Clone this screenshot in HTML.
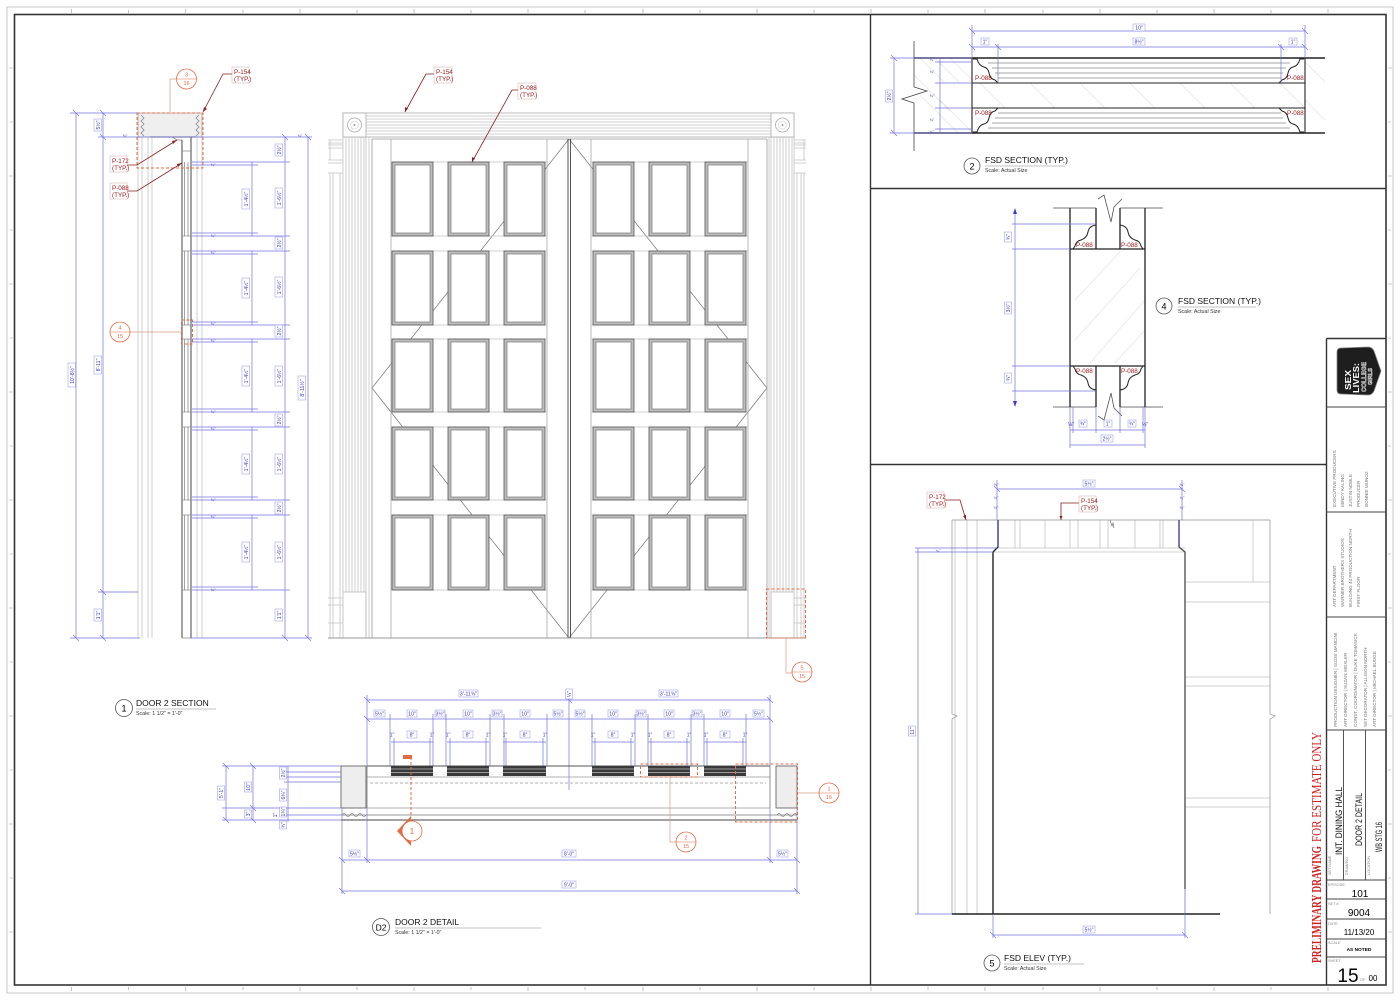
<!DOCTYPE html>
<html><head><meta charset="utf-8">
<style>
html,body{margin:0;padding:0;background:#fff;}
svg{display:block;}
text{font-family:"Liberation Sans",sans-serif;}
.g{stroke:#c4c4c4;fill:none;stroke-width:.8}
.h{stroke:#e2e2e2;fill:none;stroke-width:.7}
.m{stroke:#8a8a8a;fill:none;stroke-width:.8}
.k{stroke:#222;fill:none;stroke-width:1.2}
.b{stroke:#7474e2;fill:none;stroke-width:.7}
.dt{font-size:5.2px;fill:#3c3cc0;text-anchor:middle}
.db{fill:#fff;stroke:#9090e8;stroke-width:.5}
.rl{font-size:6.3px;fill:#a01c1c}
.rb{fill:#fff;stroke:#d0a8a8;stroke-width:.5}
.ld{stroke:#8a1f1f;fill:none;stroke-width:.8}
.cr{stroke:#e46c44;fill:#fff;stroke-width:.8}
.ct{font-size:5.5px;fill:#e46c44;text-anchor:middle}
.rd{stroke:#e46c44;fill:none;stroke-width:1;stroke-dasharray:3 2}
.tt{font-size:8.5px;fill:#111}
.ts{font-size:5.3px;fill:#333}
.tb{font-size:4.6px;fill:#777}
.tl{font-size:3.8px;fill:#888}
</style></head><body>
<svg width="1400" height="1000" viewBox="0 0 1400 1000" xmlns="http://www.w3.org/2000/svg">
<rect width="1400" height="1000" fill="#fff"/>
<!-- frame -->
<rect x="7" y="7" width="1386" height="986" fill="none" stroke="#c8c8c8" stroke-width="1"/>
<rect x="14.5" y="14.5" width="1371.5" height="970.5" fill="none" stroke="#333" stroke-width="1.6"/>
<g stroke="#999" stroke-width=".6">
<path d="M71.6,9V13 M128.7,10V13 M185.8,9V13 M243,10V13 M300,9V13 M357,10V13 M414,9V13 M471,10V13 M528,9V13 M585,10V13 M643,9V13 M700,10V13 M757,9V13 M814,10V13 M871,9V13 M928,10V13 M985,9V13 M1043,10V13 M1100,9V13 M1157,10V13 M1214,9V13 M1271,10V13 M1328,9V13"/>
<path d="M71.6,987V991 M128.7,987V990 M185.8,987V991 M243,987V990 M300,987V991 M357,987V990 M414,987V991 M471,987V990 M528,987V991 M585,987V990 M643,987V991 M700,987V990 M757,987V991 M814,987V990 M871,987V991 M928,987V990 M985,987V991 M1043,987V990 M1100,987V991 M1157,987V990 M1214,987V991 M1271,987V990 M1328,987V991"/>
<path d="M9,68H13 M10,122H13 M9,176H13 M10,230H13 M9,284H13 M10,338H13 M9,392H13 M10,446H13 M9,500H13 M10,554H13 M9,608H13 M10,662H13 M9,716H13 M10,770H13 M9,824H13 M10,878H13 M9,932H13"/>
<path d="M1388,68H1392 M1388,122H1391 M1388,176H1392 M1388,230H1391 M1388,284H1392 M1388,338H1391 M1388,392H1392 M1388,446H1391 M1388,500H1392 M1388,554H1391 M1388,608H1392 M1388,662H1391 M1388,716H1392 M1388,770H1391 M1388,824H1392 M1388,878H1391 M1388,932H1392"/>
</g>
<!-- dividers -->
<path d="M870.5,14.5V985 M870.5,188.5H1386 M870.5,464.5H1326.5 M1326.5,338.5V985 M1326.5,338.5H1386" stroke="#333" stroke-width="1.4" fill="none"/>

<!-- ============ SECTION 1 (DOOR 2 SECTION) ============ -->
<g>
<rect x="138" y="113" width="64" height="24" fill="#efefef" stroke="#999" stroke-width=".7"/>
<path d="M141,115 l3,3 -3,3 3,3 -3,3 3,3 -3,3 3,3 M199,115 l-3,3 3,3 -3,3 3,3 -3,3 3,3 -3,3" class="m"/>
<path d="M150,137H196" stroke="#222" stroke-width="1.1"/>
<path d="M172,137 L177,140 L182,140" class="m"/>
<path d="M138,137V638 M142,137V638 M148,137V638 M152,137V638 M197,137V638 M202,137V638" class="g"/>
<path d="M182,140V638 M191,137V638" stroke="#333" stroke-width=".9" fill="none"/>
<path d="M184.5,162V236 M188,162V236 M184.5,251V325 M188,251V325 M184.5,339V412 M188,339V412 M184.5,427V500 M188,427V500 M184.5,515V590 M188,515V590" class="m"/>
<path d="M182,151H191 M182,236H191 M182,251H191 M182,325H191 M182,339H191 M182,412H191 M182,427H191 M182,500H191 M182,515H191 M182,590H191 M182,638H191" class="m"/>
<rect x="137" y="113" width="66" height="55" class="rd"/>
<rect x="181.5" y="320" width="11" height="24" class="rd"/>
<!-- blue dims -->
<path class="b" d="M76,113V638 M70,113H138 M70,638H140 M103,113V638 M98,137H138 M98,592H138 M118,137H312 M190,638H312 M285,137V638 M308,137V638"/>
<path class="b" d="M252,162V236 M252,251V325 M252,339V412 M252,427V500 M252,515V590"/>
<path class="b" d="M192,162H290 M192,165H258 M192,236H290 M192,233H258 M192,251H290 M192,254H258 M192,325H290 M192,322H258 M192,339H290 M192,342H258 M192,412H290 M192,409H258 M192,427H290 M192,430H258 M192,500H290 M192,497H258 M192,515H290 M192,518H258 M192,590H290 M192,587H258"/>
<path class="b" d="M73,110l6,6 M73,635l6,6 M100,134l6,6 M100,589l6,6 M100,635l6,6 M100,110l6,6 M282,134l6,6 M305,134l6,6 M282,635l6,6 M305,635l6,6"/>
<g transform="translate(72,375) rotate(-90)"><rect class="db" x="-12" y="-4" width="24" height="7.5"/><text class="dt" y="1.8">10'-8½"</text></g>
<g transform="translate(98,125) rotate(-90)"><rect class="db" x="-6" y="-4" width="12" height="7.5"/><text class="dt" y="1.8">5½"</text></g>
<g transform="translate(98,365) rotate(-90)"><rect class="db" x="-9" y="-4" width="18" height="7.5"/><text class="dt" y="1.8">8'-11"</text></g>
<g transform="translate(98,615) rotate(-90)"><rect class="db" x="-6" y="-4" width="12" height="7.5"/><text class="dt" y="1.8">1'1"</text></g>
<g transform="translate(302,388) rotate(-90)"><rect class="db" x="-12" y="-4" width="24" height="7.5"/><text class="dt" y="1.8">8'-11½"</text></g>
<g transform="translate(246,199) rotate(-90)"><rect class="db" x="-10" y="-4" width="20" height="7.5"/><text class="dt" y="1.8">1'-4½"</text></g>
<g transform="translate(246,288) rotate(-90)"><rect class="db" x="-10" y="-4" width="20" height="7.5"/><text class="dt" y="1.8">1'-4½"</text></g>
<g transform="translate(246,376) rotate(-90)"><rect class="db" x="-10" y="-4" width="20" height="7.5"/><text class="dt" y="1.8">1'-4½"</text></g>
<g transform="translate(246,464) rotate(-90)"><rect class="db" x="-10" y="-4" width="20" height="7.5"/><text class="dt" y="1.8">1'-4½"</text></g>
<g transform="translate(246,552) rotate(-90)"><rect class="db" x="-10" y="-4" width="20" height="7.5"/><text class="dt" y="1.8">1'-4½"</text></g>
<g transform="translate(279,150) rotate(-90)"><rect class="db" x="-6" y="-4" width="12" height="7.5"/><text class="dt" y="1.8">2½"</text></g>
<g transform="translate(279,198) rotate(-90)"><rect class="db" x="-10" y="-4" width="20" height="7.5"/><text class="dt" y="1.8">1'-6½"</text></g>
<g transform="translate(279,243) rotate(-90)"><rect class="db" x="-6" y="-4" width="12" height="7.5"/><text class="dt" y="1.8">2½"</text></g>
<g transform="translate(279,287) rotate(-90)"><rect class="db" x="-10" y="-4" width="20" height="7.5"/><text class="dt" y="1.8">1'-6½"</text></g>
<g transform="translate(279,331) rotate(-90)"><rect class="db" x="-6" y="-4" width="12" height="7.5"/><text class="dt" y="1.8">2½"</text></g>
<g transform="translate(279,376) rotate(-90)"><rect class="db" x="-10" y="-4" width="20" height="7.5"/><text class="dt" y="1.8">1'-6½"</text></g>
<g transform="translate(279,420) rotate(-90)"><rect class="db" x="-6" y="-4" width="12" height="7.5"/><text class="dt" y="1.8">2½"</text></g>
<g transform="translate(279,464) rotate(-90)"><rect class="db" x="-10" y="-4" width="20" height="7.5"/><text class="dt" y="1.8">1'-6½"</text></g>
<g transform="translate(279,508) rotate(-90)"><rect class="db" x="-6" y="-4" width="12" height="7.5"/><text class="dt" y="1.8">2½"</text></g>
<g transform="translate(279,552) rotate(-90)"><rect class="db" x="-10" y="-4" width="20" height="7.5"/><text class="dt" y="1.8">1'-6½"</text></g>
<g transform="translate(279,615) rotate(-90)"><rect class="db" x="-6" y="-4" width="12" height="7.5"/><text class="dt" y="1.8">1'1"</text></g>
<text class="dt" x="213" y="166" style="font-size:4px">¾"</text><text class="dt" x="213" y="237" style="font-size:4px">¾"</text>
<text class="dt" x="213" y="254" style="font-size:4px">¾"</text><text class="dt" x="213" y="325" style="font-size:4px">¾"</text>
<text class="dt" x="213" y="342" style="font-size:4px">¾"</text><text class="dt" x="213" y="413" style="font-size:4px">¾"</text>
<text class="dt" x="213" y="430" style="font-size:4px">¾"</text><text class="dt" x="213" y="501" style="font-size:4px">¾"</text>
<text class="dt" x="213" y="518" style="font-size:4px">¾"</text><text class="dt" x="213" y="591" style="font-size:4px">¾"</text>
<text class="dt" x="125" y="137" style="font-size:4px">¾"</text><text class="dt" x="300" y="137" style="font-size:4px">¾"</text>
<!-- leaders -->
<path class="ld" d="M232,74H223L203,112 M127,165H137L177,140 M127,191H137L182,163"/>
<path d="M203,112l1,-5 3,2z M177,140l-5,1 1,3z M182,163l-5,1 1,3z" fill="#8a1f1f"/>
<rect class="rb" x="232" y="67" width="17" height="16"/><text class="rl" x="234" y="74">P-154</text><text class="rl" x="234" y="81">(TYP.)</text>
<rect class="rb" x="110" y="156" width="17" height="16"/><text class="rl" x="112" y="163">P-172</text><text class="rl" x="112" y="170">(TYP.)</text>
<rect class="rb" x="110" y="183" width="17" height="16"/><text class="rl" x="112" y="190">P-088</text><text class="rl" x="112" y="197">(TYP.)</text>
<path d="M170,112V79H176" stroke="#d89a80" stroke-width=".7" fill="none"/>
<circle class="cr" cx="186.5" cy="79" r="10"/><path d="M177,79H196" stroke="#e46c44" stroke-width=".5"/>
<text class="ct" x="186.5" y="76.5">3</text><text class="ct" x="186.5" y="85">16</text>
<path d="M130,332H182" stroke="#d89a80" stroke-width=".7"/>
<circle class="cr" cx="120" cy="332" r="10"/><path d="M110,332H130" stroke="#e46c44" stroke-width=".5"/>
<text class="ct" x="120" y="329.5">4</text><text class="ct" x="120" y="338">15</text>
<circle cx="124" cy="708" r="8.5" fill="none" stroke="#555" stroke-width=".8"/><text x="124" y="711.5" style="font-size:9px;text-anchor:middle">1</text>
<text class="tt" x="136" y="706">DOOR 2 SECTION</text><path d="M136,709H216" stroke="#888" stroke-width=".6"/>
<text class="ts" x="136" y="715">Scale: 1 1/2" = 1'-0"</text>
</g>

<!-- ============ ELEVATION ============ -->
<g>
<path d="M569,139L372,388L569,638 M569,139L767,388L569,638" stroke="#808080" stroke-width=".8" fill="none"/>
<rect x="343" y="113" width="451" height="24" fill="none" stroke="#aaa" stroke-width=".8"/>
<path class="g" d="M366,116H771 M366,119H771 M366,122H771 M366,125H771 M366,128H771 M366,131H771 M366,134H771"/>
<rect x="343" y="113" width="23" height="24" fill="#fff" stroke="#aaa" stroke-width=".8"/>
<circle cx="354.5" cy="125" r="7" fill="none" stroke="#aaa" stroke-width=".8"/><circle cx="354.5" cy="125" r="4" fill="none" stroke="#ccc" stroke-width=".6"/><circle cx="354.5" cy="125" r="1" fill="#999"/>
<rect x="771" y="113" width="23" height="24" fill="#fff" stroke="#aaa" stroke-width=".8"/>
<circle cx="782.5" cy="125" r="7" fill="none" stroke="#aaa" stroke-width=".8"/><circle cx="782.5" cy="125" r="4" fill="none" stroke="#ccc" stroke-width=".6"/><circle cx="782.5" cy="125" r="1" fill="#999"/>
<path class="g" d="M343,137V592 M346,137V592 M349,137V592 M352,137V592 M355,137V592 M358,137V592 M361,137V592 M364,137V592 M366,137V638"/>
<path class="g" d="M771,137V638 M774,137V592 M777,137V592 M780,137V592 M783,137V592 M786,137V592 M789,137V592 M792,137V592 M794,137V592"/>
<rect x="343" y="592" width="23" height="46" fill="none" stroke="#bbb" stroke-width=".8"/>
<rect x="771" y="592" width="23" height="46" fill="none" stroke="#bbb" stroke-width=".8"/>
<path class="g" d="M328,140H343 M328,143H343 M328,145H343 M328,148H343 M328,160H343 M328,163H343 M328,173H343 M330,140V160 M330,173V638 M333,173V638 M340,173V638 M328,598H343 M328,605H343 M328,623H343"/>
<path class="g" d="M794,140H806 M794,143H806 M794,145H806 M794,148H806 M794,160H806 M794,163H806 M794,173H806 M804,140V160 M804,173V638 M801,173V638 M797,173V638 M794,598H806 M794,605H806 M794,623H806"/>
<path class="g" d="M369,137V638 M769,137V638"/>
<path d="M372,139V638 M767,139V638 M372,139H767" stroke="#999" stroke-width=".8" fill="none"/>
<path d="M391,139V638 M547,139V638 M591,139V638 M748,139V638" stroke="#aaa" stroke-width=".8" fill="none"/>
<path d="M568,139V638 M570.5,139V638" stroke="#444" stroke-width=".9" fill="none"/>
<path class="g" d="M391,162H547 M391,236H547 M391,251H547 M391,325H547 M391,339H547 M391,412H547 M391,427H547 M391,500H547 M391,515H547 M391,590H547 M591,162H748 M591,236H748 M591,251H748 M591,325H748 M591,339H748 M591,412H748 M591,427H748 M591,500H748 M591,515H748 M591,590H748"/>
<path d="M328,638H806" stroke="#999" stroke-width=".9"/>
<g fill="#bdbdbd" stroke="#555" stroke-width=".8">
<rect x="392" y="162" width="41" height="74"/><rect x="448" y="162" width="41" height="74"/><rect x="504" y="162" width="41" height="74"/><rect x="593" y="162" width="41" height="74"/><rect x="649" y="162" width="41" height="74"/><rect x="705" y="162" width="41" height="74"/>
<rect x="392" y="251" width="41" height="74"/><rect x="448" y="251" width="41" height="74"/><rect x="504" y="251" width="41" height="74"/><rect x="593" y="251" width="41" height="74"/><rect x="649" y="251" width="41" height="74"/><rect x="705" y="251" width="41" height="74"/>
<rect x="392" y="339" width="41" height="73"/><rect x="448" y="339" width="41" height="73"/><rect x="504" y="339" width="41" height="73"/><rect x="593" y="339" width="41" height="73"/><rect x="649" y="339" width="41" height="73"/><rect x="705" y="339" width="41" height="73"/>
<rect x="392" y="427" width="41" height="73"/><rect x="448" y="427" width="41" height="73"/><rect x="504" y="427" width="41" height="73"/><rect x="593" y="427" width="41" height="73"/><rect x="649" y="427" width="41" height="73"/><rect x="705" y="427" width="41" height="73"/>
<rect x="392" y="515" width="41" height="75"/><rect x="448" y="515" width="41" height="75"/><rect x="504" y="515" width="41" height="75"/><rect x="593" y="515" width="41" height="75"/><rect x="649" y="515" width="41" height="75"/><rect x="705" y="515" width="41" height="75"/>
</g>
<g fill="#fff" stroke="#777" stroke-width=".7">
<rect x="395" y="165" width="35" height="68"/><rect x="451" y="165" width="35" height="68"/><rect x="507" y="165" width="35" height="68"/><rect x="596" y="165" width="35" height="68"/><rect x="652" y="165" width="35" height="68"/><rect x="708" y="165" width="35" height="68"/>
<rect x="395" y="254" width="35" height="68"/><rect x="451" y="254" width="35" height="68"/><rect x="507" y="254" width="35" height="68"/><rect x="596" y="254" width="35" height="68"/><rect x="652" y="254" width="35" height="68"/><rect x="708" y="254" width="35" height="68"/>
<rect x="395" y="342" width="35" height="67"/><rect x="451" y="342" width="35" height="67"/><rect x="507" y="342" width="35" height="67"/><rect x="596" y="342" width="35" height="67"/><rect x="652" y="342" width="35" height="67"/><rect x="708" y="342" width="35" height="67"/>
<rect x="395" y="430" width="35" height="67"/><rect x="451" y="430" width="35" height="67"/><rect x="507" y="430" width="35" height="67"/><rect x="596" y="430" width="35" height="67"/><rect x="652" y="430" width="35" height="67"/><rect x="708" y="430" width="35" height="67"/>
<rect x="395" y="518" width="35" height="69"/><rect x="451" y="518" width="35" height="69"/><rect x="507" y="518" width="35" height="69"/><rect x="596" y="518" width="35" height="69"/><rect x="652" y="518" width="35" height="69"/><rect x="708" y="518" width="35" height="69"/>
</g>
<path class="ld" d="M435,74H426L405,112 M519,90H512L472,162"/>
<path d="M405,112l0,-5 3,1.5z M472,162l0,-5 3,1.5z" fill="#8a1f1f"/>
<rect class="rb" x="434" y="67" width="18" height="16"/><text class="rl" x="436" y="74">P-154</text><text class="rl" x="436" y="81">(TYP.)</text>
<rect class="rb" x="518" y="83" width="18" height="16"/><text class="rl" x="520" y="90">P-088</text><text class="rl" x="520" y="97">(TYP.)</text>
<rect x="766.5" y="589" width="39" height="49" class="rd"/>
<path d="M786,638V673H792" stroke="#d89a80" stroke-width=".7" fill="none"/>
<circle class="cr" cx="802" cy="672" r="10"/><path d="M792,672H812" stroke="#e46c44" stroke-width=".5"/>
<text class="ct" x="802" y="669.5">5</text><text class="ct" x="802" y="678">15</text>
</g>

<!-- ============ D2 DETAIL ============ -->
<g>
<path class="b" d="M367,700H770 M367,719H770 M367,695V766 M770,695V766 M569,695V790"/>
<path class="b" d="M390,714V766 M433,714V766 M446,714V766 M490,714V766 M504,714V766 M547,714V766 M592,714V766 M635,714V766 M648,714V766 M691,714V766 M704,714V766 M746,714V766"/>
<path class="b" d="M391,742H433 M447,742H489 M503,742H546 M592,742H634 M648,742H690 M704,742H746 M394,738V766 M430,738V766 M450,738V766 M486,738V766 M506,738V766 M543,738V766 M595,738V766 M631,738V766 M651,738V766 M687,738V766 M707,738V766 M743,738V766"/>
<path class="b" d="M364,697l6,6 M566,697l6,6 M767,697l6,6 M364,716l6,6 M767,716l6,6"/>
<rect class="db" x="459" y="690" width="19" height="7"/><text class="dt" x="468.5" y="695.5">3'-11⅝"</text>
<rect class="db" x="659" y="690" width="19" height="7"/><text class="dt" x="668.5" y="695.5">3'-11⅝"</text>
<g transform="translate(569,694) rotate(-90)"><rect class="db" x="-5" y="-3.5" width="10" height="7"/><text class="dt" y="2">¼"</text></g>
<g class="dt">
<rect class="db" x="374" y="710" width="11" height="7"/><text x="379.5" y="715.5">5½"</text>
<rect class="db" x="407" y="710" width="10" height="7"/><text x="412" y="715.5">10"</text>
<rect class="db" x="435" y="710" width="10" height="7"/><text x="440" y="715.5">3½"</text>
<rect class="db" x="463" y="710" width="10" height="7"/><text x="468" y="715.5">10"</text>
<rect class="db" x="492" y="710" width="10" height="7"/><text x="497" y="715.5">3½"</text>
<rect class="db" x="520" y="710" width="10" height="7"/><text x="525" y="715.5">10"</text>
<rect class="db" x="553" y="710" width="10" height="7"/><text x="558" y="715.5">5½"</text>
<rect class="db" x="575" y="710" width="10" height="7"/><text x="580" y="715.5">5½"</text>
<rect class="db" x="608" y="710" width="10" height="7"/><text x="613" y="715.5">10"</text>
<rect class="db" x="636" y="710" width="10" height="7"/><text x="641" y="715.5">3½"</text>
<rect class="db" x="664" y="710" width="10" height="7"/><text x="669" y="715.5">10"</text>
<rect class="db" x="692" y="710" width="10" height="7"/><text x="697" y="715.5">3½"</text>
<rect class="db" x="720" y="710" width="10" height="7"/><text x="725" y="715.5">10"</text>
<rect class="db" x="753" y="710" width="11" height="7"/><text x="758.5" y="715.5">5½"</text>
<rect class="db" x="407" y="731" width="10" height="7"/><text x="412" y="736.5">8"</text>
<rect class="db" x="463" y="731" width="10" height="7"/><text x="468" y="736.5">8"</text>
<rect class="db" x="520" y="731" width="10" height="7"/><text x="525" y="736.5">8"</text>
<rect class="db" x="608" y="731" width="10" height="7"/><text x="613" y="736.5">8"</text>
<rect class="db" x="664" y="731" width="10" height="7"/><text x="669" y="736.5">8"</text>
<rect class="db" x="720" y="731" width="10" height="7"/><text x="725" y="736.5">8"</text>
<text x="392" y="736.5">1"</text><text x="432" y="736.5">1"</text><text x="448" y="736.5">1"</text><text x="488" y="736.5">1"</text><text x="505" y="736.5">1"</text><text x="545" y="736.5">1"</text>
<text x="593" y="736.5">1"</text><text x="633" y="736.5">1"</text><text x="650" y="736.5">1"</text><text x="689" y="736.5">1"</text><text x="706" y="736.5">1"</text><text x="745" y="736.5">1"</text>
</g>
<path d="M367,766H770" stroke="#555" stroke-width=".9"/>
<path d="M367,777H770 M367,808H770" stroke="#999" stroke-width=".8"/>
<path d="M370,783H766" stroke="#999" stroke-width=".7" stroke-dasharray="3 2"/>
<path d="M341,815H797" stroke="#777" stroke-width=".8"/>
<path d="M341,820H797" stroke="#444" stroke-width="1"/>
<path d="M367,766V808 M770,766V808" stroke="#777" stroke-width=".8"/>
<g fill="#3a3a3a"><rect x="391" y="766" width="42" height="10"/><rect x="447" y="766" width="42" height="10"/><rect x="503" y="766" width="43" height="10"/><rect x="592" y="766" width="42" height="10"/><rect x="648" y="766" width="42" height="10"/><rect x="704" y="766" width="42" height="10"/></g>
<path d="M391,769H433 M391,772.5H433 M447,769H489 M447,772.5H489 M503,769H546 M503,772.5H546 M592,769H634 M592,772.5H634 M648,769H690 M648,772.5H690 M704,769H746 M704,772.5H746" stroke="#bbb" stroke-width=".8"/>
<rect x="341" y="766" width="25" height="42" fill="#eee" stroke="#555" stroke-width=".8"/>
<rect x="776" y="766" width="21" height="42" fill="#eee" stroke="#555" stroke-width=".8"/>
<path d="M342,815q2,-3 4,0t4,0t4,0t4,0t4,0t4,0 M777,815q2,-3 4,0t4,0t4,0t4,0t4,0" class="m"/>
<path class="b" d="M226,766V820 M253,766V820 M288,766V822 M222,766H341 M222,808H341 M222,820H341 M284,772H341 M284,777H341 M284,782H341 M284,815H341"/>
<path class="b" d="M223,763l6,6 M223,817l6,6 M250,763l6,6 M250,805l6,6 M250,817l6,6"/>
<g transform="translate(221,793) rotate(-90)"><rect class="db" x="-7" y="-3.5" width="14" height="7"/><text class="dt" y="2">5'-1"</text></g>
<g transform="translate(248,787) rotate(-90)"><rect class="db" x="-5" y="-3.5" width="10" height="7"/><text class="dt" y="2">10"</text></g>
<g transform="translate(248,814) rotate(-90)"><rect class="db" x="-4" y="-3.5" width="8" height="7"/><text class="dt" y="2">3"</text></g>
<g transform="translate(283,773) rotate(-90)"><rect class="db" x="-6" y="-3.5" width="12" height="7"/><text class="dt" y="2">2½"</text></g>
<g transform="translate(283,795) rotate(-90)"><rect class="db" x="-6" y="-3.5" width="12" height="7"/><text class="dt" y="2">6¾"</text></g>
<g transform="translate(283,812) rotate(-90)"><rect class="db" x="-5" y="-3.5" width="10" height="7"/><text class="dt" y="2">1¼"</text></g>
<g transform="translate(283,825) rotate(-90)"><rect class="db" x="-4" y="-3.5" width="8" height="7"/><text class="dt" y="2">¾"</text></g>
<g transform="translate(275,815) rotate(-90)"><text class="dt" y="2">1"</text></g>
<path class="b" d="M342,860H797 M342,891H797 M342,808V894 M797,808V894 M367,808V863 M770,808V863"/>
<path class="b" d="M339,857l6,6 M364,857l6,6 M767,857l6,6 M794,857l6,6 M339,888l6,6 M794,888l6,6"/>
<rect class="db" x="349" y="850" width="11" height="7"/><text class="dt" x="354.5" y="855.5">5½"</text>
<rect class="db" x="562" y="850" width="14" height="7"/><text class="dt" x="569" y="855.5">8'-0"</text>
<rect class="db" x="777" y="850" width="11" height="7"/><text class="dt" x="782.5" y="855.5">5½"</text>
<rect class="db" x="562" y="881" width="14" height="7"/><text class="dt" x="569" y="886.5">9'-0"</text>
<path d="M411,757V818" stroke="#e46c44" stroke-width="1" stroke-dasharray="3 2"/>
<rect x="403" y="755" width="9" height="4" fill="#e46c44"/>
<polygon points="397,831 411,816 411,846" fill="#e46c44"/>
<circle class="cr" cx="412" cy="831" r="10"/><text x="412" y="834" style="font-size:8px;fill:#e46c44;text-anchor:middle">1</text>
<rect x="640.5" y="764" width="57" height="13" class="rd"/>
<rect x="735.5" y="764" width="62" height="58" class="rd"/>
<path d="M670,777V842H676 M798,793H819" stroke="#d89a80" stroke-width=".7" fill="none"/>
<circle class="cr" cx="686" cy="842" r="10"/><path d="M676,842H696" stroke="#e46c44" stroke-width=".5"/>
<text class="ct" x="686" y="839.5">2</text><text class="ct" x="686" y="848">15</text>
<circle class="cr" cx="829" cy="793" r="10"/><path d="M819,793H839" stroke="#e46c44" stroke-width=".5"/>
<text class="ct" x="829" y="790.5">1</text><text class="ct" x="829" y="799">16</text>
<circle cx="381" cy="927" r="8.5" fill="none" stroke="#555" stroke-width=".8"/><text x="381" y="930.5" style="font-size:8.5px;text-anchor:middle">D2</text>
<text class="tt" x="395" y="925">DOOR 2 DETAIL</text><path d="M395,928H541" stroke="#888" stroke-width=".6"/>
<text class="ts" x="395" y="934">Scale: 1 1/2" = 1'-0"</text>
</g>

<!-- ============ FSD SECTION 2 ============ -->
<g>
<path class="h" d="M920,58L945,83 M935,58L960,83 M950,58L972,80 M914,75L950,111 M920,95L958,133 M940,100L972,132 M980,83L1005,108 M1030,83L1055,108 M1080,83L1105,108 M1130,83L1155,108 M1180,83L1205,108 M1230,83L1255,108 M1280,83L1305,108 M1305,62L1325,82 M1305,100L1325,120"/>
<polyline points="914,41 914,87 927,91 902,99 914,103 914,151" fill="none" stroke="#444" stroke-width=".8"/>
<path d="M914,58H1325 M914,133H1325" stroke="#222" stroke-width="1.4"/>
<path d="M972,83H1305 M972,108H1305 M972,58V133 M1305,58V133" stroke="#222" stroke-width="1.1" fill="none"/>
<path class="m" d="M988,63H1290 M992,68H1286 M995,73H1283 M998,78H1281 M988,128H1290 M992,123H1286 M995,118H1283 M998,113H1281"/>
<path d="M973,59H977Q979,66 984,67Q988,68 989,73Q990,79 995,80L998,83 M1304,59H1300Q1298,66 1293,67Q1289,68 1288,73Q1287,79 1282,80L1279,83 M973,132H977Q979,125 984,124Q988,123 989,118Q990,112 995,111L998,108 M1304,132H1300Q1298,125 1293,124Q1289,123 1288,118Q1287,112 1282,111L1279,108" stroke="#222" stroke-width="1" fill="none"/>
<text class="rl" x="975" y="80">P-088</text><text class="rl" x="1287" y="80">P-088</text>
<text class="rl" x="975" y="115">P-088</text><text class="rl" x="1287" y="115">P-088</text>
<path class="b" d="M972,31H1305 M972,47H1305 M972,25V58 M1305,25V58 M998,44V83 M1281,44V83 M894,58V133 M890,58H972 M890,133H972 M940,58V133 M935,62H972 M935,83H972 M935,108H972 M935,129H972"/>
<path class="b" d="M969,28l6,6 M1302,28l6,6 M969,44l6,6 M995,44l6,6 M1278,44l6,6 M1302,44l6,6 M891,55l6,6 M891,130l6,6"/>
<rect class="db" x="1133" y="24" width="12" height="7"/><text class="dt" x="1139" y="29.5">10"</text>
<rect class="db" x="1133" y="38" width="12" height="7"/><text class="dt" x="1139" y="43.5">8½"</text>
<rect class="db" x="981" y="38" width="8" height="7"/><text class="dt" x="985" y="43.5">1"</text>
<rect class="db" x="1289" y="38" width="8" height="7"/><text class="dt" x="1293" y="43.5">1"</text>
<g transform="translate(889,96) rotate(-90)"><rect class="db" x="-6" y="-3.5" width="12" height="7"/><text class="dt" y="2">2½"</text></g>
<text class="dt" x="932" y="61" style="font-size:4px">¼"</text><text class="dt" x="932" y="73" style="font-size:4px">¾"</text>
<text class="dt" x="932" y="97" style="font-size:4px">¾"</text><text class="dt" x="932" y="121" style="font-size:4px">¾"</text><text class="dt" x="932" y="133" style="font-size:4px">¼"</text>
<circle cx="972" cy="166" r="8" fill="none" stroke="#555" stroke-width=".8"/><text x="972" y="169.5" style="font-size:9px;text-anchor:middle">2</text>
<text class="tt" x="985" y="163">FSD SECTION (TYP.)</text><path d="M985,166H1065" stroke="#888" stroke-width=".6"/>
<text class="ts" x="985" y="172">Scale: Actual Size</text>
</g>

<!-- ============ FSD SECTION 4 ============ -->
<g>
<path class="h" d="M1075,300L1120,252 M1075,340L1140,268 M1090,363L1145,300 M1115,363L1145,330"/>
<path d="M1053,208H1096 M1120,208H1163 M1053,407H1096 M1120,407H1163" stroke="#777" stroke-width=".9"/>
<path d="M1070,208V407 M1145,208V407 M1096,208V249 M1120,208V249 M1096,366V407 M1120,366V407 M1070,249H1145 M1070,366H1145" stroke="#222" stroke-width="1.3" fill="none"/>
<polyline points="1098,199 1104,195 1111,222 1114,207 1122,199" fill="none" stroke="#555" stroke-width=".8"/>
<polyline points="1098,416 1104,420 1111,393 1114,408 1122,416" fill="none" stroke="#555" stroke-width=".8"/>
<path d="M1096,225Q1089,226 1088,232Q1087,238 1081,240Q1076,241 1075,246L1073,249 M1120,225Q1127,226 1128,232Q1129,238 1135,240Q1140,241 1141,246L1143,249 M1096,390Q1089,389 1088,383Q1087,377 1081,375Q1076,374 1075,369L1073,366 M1120,390Q1127,389 1128,383Q1129,377 1135,375Q1140,374 1141,369L1143,366" stroke="#222" stroke-width="1" fill="none"/>
<text class="rl" x="1076" y="247">P-088</text><text class="rl" x="1121" y="247">P-088</text>
<text class="rl" x="1076" y="373">P-088</text><text class="rl" x="1121" y="373">P-088</text>
<path class="b" d="M1015,211V404 M1012,224H1096 M1012,249H1070 M1012,366H1070 M1012,391H1096"/>
<path d="M1015,208l-2,6h4z M1015,407l-2,-6h4z" fill="#3c3cd0"/>
<g transform="translate(1008,237) rotate(-90)"><rect class="db" x="-5" y="-3.5" width="10" height="7"/><text class="dt" y="2">¾"</text></g>
<g transform="translate(1008,308) rotate(-90)"><rect class="db" x="-6" y="-3.5" width="12" height="7"/><text class="dt" y="2">3½"</text></g>
<g transform="translate(1008,378) rotate(-90)"><rect class="db" x="-5" y="-3.5" width="10" height="7"/><text class="dt" y="2">¾"</text></g>
<path class="b" d="M1070,430H1145 M1070,445H1145 M1070,407V448 M1145,407V448 M1073,407V433 M1096,407V433 M1120,407V433 M1143,407V433"/>
<g class="dt"><text x="1071" y="426">⅛"</text><rect class="db" x="1079" y="420" width="8" height="7"/><text x="1083" y="425.5">¾"</text><rect class="db" x="1104" y="420" width="8" height="7"/><text x="1108" y="425.5">1"</text><rect class="db" x="1128" y="420" width="8" height="7"/><text x="1132" y="425.5">¾"</text><text x="1145" y="426">⅛"</text>
<rect class="db" x="1101" y="435" width="12" height="7"/><text x="1107" y="440.5">2½"</text></g>
<circle cx="1164" cy="306" r="8" fill="none" stroke="#555" stroke-width=".8"/><text x="1164" y="309.5" style="font-size:9px;text-anchor:middle">4</text>
<text class="tt" x="1178" y="304">FSD SECTION (TYP.)</text><path d="M1178,307H1256" stroke="#888" stroke-width=".6"/>
<text class="ts" x="1178" y="313">Scale: Actual Size</text>
</g>

<!-- ============ FSD ELEV 5 ============ -->
<g>
<path class="g" d="M955,520V914 M967,520V914 M977,520V914 M1015,520V548 M1020,520V548 M1045,520V548 M1070,520V548 M1078,520V548 M1100,520V548 M1108,520V548 M1135,520V548 M1160,520V548 M1163,520V548 M993,548H1185 M993,552H1185 M1253,520V582 M1185,582H1270 M1185,602H1270 M1185,677H1270 M1185,686H1270 M1185,798H1270 M1185,807H1270 M1185,889V914"/>
<path d="M952,520V714 l5,2 -5,3 M952,719V914 M1270,520V714 l5,2 -5,3 M1270,719V914 M952,520H1270" stroke="#aaa" stroke-width=".9" fill="none"/>
<path d="M1110,520 l2,6 1,-3 1,5" stroke="#777" stroke-width=".7" fill="none"/>
<path d="M998,520V547L993,552V914 M952,914H1220" stroke="#222" stroke-width="1.4" fill="none"/>
<path d="M1179,520V547L1185,552V889" stroke="#555" stroke-width="1.4" fill="none"/>
<path d="M998,520V547 M1179,520V547" stroke="#5050c8" stroke-width="1.2" fill="none"/>
<path class="b" d="M918,548V914 M915,548H997 M915,552H993 M915,914H952 M997,489H1183 M997,480V520 M1182,480V520 M993,930V938 M1185,930V938 M993,935H1185 M993,914V938 M1185,889V938"/>
<path class="b" d="M994,486l6,6 M1179,486l6,6 M990,932l6,6 M1182,932l6,6"/>
<g transform="translate(912,731) rotate(-90)"><rect class="db" x="-5" y="-3.5" width="10" height="7"/><text class="dt" y="2">11"</text></g>
<rect class="db" x="1083" y="480" width="12" height="7"/><text class="dt" x="1089" y="485.5">5½"</text>
<rect class="db" x="1083" y="926" width="12" height="7"/><text class="dt" x="1089" y="931.5">5½"</text>
<g class="dt" style="font-size:4px"><text x="996" y="486">⅛"</text><text x="996" y="499">¼"</text><text x="996" y="509">⅛"</text><text x="1182" y="486">⅛"</text><text x="1182" y="499">¼"</text><text x="1182" y="509">⅛"</text><text x="938" y="552">¼"</text></g>
<path class="ld" d="M943,500H960L966,520 M1079,503H1061V520"/>
<path d="M966,520l-3,-4 3,-1z M1061,520l-1.5,-4h3z" fill="#8a1f1f"/>
<rect class="rb" x="927" y="492" width="17" height="16"/><text class="rl" x="929" y="499">P-172</text><text class="rl" x="929" y="506">(TYP.)</text>
<rect class="rb" x="1079" y="496" width="17" height="16"/><text class="rl" x="1081" y="503">P-154</text><text class="rl" x="1081" y="510">(TYP.)</text>
<circle cx="992" cy="963" r="8" fill="none" stroke="#555" stroke-width=".8"/><text x="992" y="966.5" style="font-size:9px;text-anchor:middle">5</text>
<text class="tt" x="1004" y="961">FSD ELEV (TYP.)</text><path d="M1004,964H1084" stroke="#888" stroke-width=".6"/>
<text class="ts" x="1004" y="970">Scale: Actual Size</text>
</g>

<!-- ============ TITLE BLOCK ============ -->
<g>
<path d="M1326.5,407H1386 M1326.5,512H1386 M1326.5,617H1386 M1326.5,730H1386 M1326.5,880H1386 M1326.5,899H1386 M1326.5,919H1386 M1326.5,939H1386 M1326.5,957H1386 M1343.5,730V880 M1365.5,730V880" stroke="#444" stroke-width=".9" fill="none"/>
<path d="M1341,348 L1368,347 Q1372,347 1374,351 L1381,371 L1374,391 Q1372,395 1368,395 L1341,394 Q1337,394 1337,390 L1337,352 Q1337,348 1341,348Z" fill="#1e1e1e" stroke="#888" stroke-width=".8"/>
<g transform="translate(1351,390) rotate(-90)"><text x="0" y="0" style="font-size:8px;font-weight:bold;fill:#fff" textLength="20" lengthAdjust="spacingAndGlyphs">SEX</text></g>
<g transform="translate(1359,393) rotate(-90)"><text x="0" y="0" style="font-size:8px;font-weight:bold;fill:#fff" textLength="30" lengthAdjust="spacingAndGlyphs">LIVES:</text></g>
<g transform="translate(1366,392) rotate(-90)"><text x="0" y="0" style="font-size:6px;font-weight:bold;fill:#1e1e1e;stroke:#ddd;stroke-width:.5" textLength="30" lengthAdjust="spacingAndGlyphs">COLLEGE</text></g>
<g transform="translate(1372,385) rotate(-90)"><text x="0" y="0" style="font-size:5.5px;font-weight:bold;fill:#1e1e1e;stroke:#ddd;stroke-width:.5" textLength="17" lengthAdjust="spacingAndGlyphs">GIRLS</text></g>
<g transform="translate(1336,507) rotate(-90)"><text class="tb">EXECUTIVE PRODUCERS</text></g>
<g transform="translate(1344,507) rotate(-90)"><text class="tb">MINDY KALING</text></g>
<g transform="translate(1352,507) rotate(-90)"><text class="tb">JUSTIN NOBLE</text></g>
<g transform="translate(1360,507) rotate(-90)"><text class="tb">PRODUCER</text></g>
<g transform="translate(1368,507) rotate(-90)"><text class="tb">BONNIE MUNOZ</text></g>
<g transform="translate(1336,607) rotate(-90)"><text class="tb">ART DEPARTMENT</text></g>
<g transform="translate(1344,607) rotate(-90)"><text class="tb">WARNER BROTHERS STUDIOS</text></g>
<g transform="translate(1352,607) rotate(-90)"><text class="tb">BUILDING 44 PRODUCTION NORTH</text></g>
<g transform="translate(1360,607) rotate(-90)"><text class="tb">FIRST FLOOR</text></g>
<g transform="translate(1337,727) rotate(-90)"><text class="tb">PRODUCTION DESIGNER  |  SUZIE MANCINI</text></g>
<g transform="translate(1347,727) rotate(-90)"><text class="tb">ART DIRECTOR  |  SUZAN WEXLER</text></g>
<g transform="translate(1357,727) rotate(-90)"><text class="tb">CONST. COORDINATOR  |  DUKE TOMASICK</text></g>
<g transform="translate(1367,727) rotate(-90)"><text class="tb">SET DECORATOR  |  ALLISON NORTH</text></g>
<g transform="translate(1376,727) rotate(-90)"><text class="tb">ART DIRECTOR  |  MICHAEL BUDGE</text></g>
<g transform="translate(1321,963) rotate(-90)"><text style="font-family:'Liberation Serif',serif;font-size:14px;font-weight:bold;fill:#d21f1f" textLength="117" lengthAdjust="spacingAndGlyphs">PRELIMINARY DRAWING</text></g>
<g transform="translate(1321,842) rotate(-90)"><text style="font-family:'Liberation Serif',serif;font-size:14px;fill:#d21f1f" textLength="110" lengthAdjust="spacingAndGlyphs">FOR ESTIMATE ONLY</text></g>
<g transform="translate(1331,875) rotate(-90)"><text class="tl">SET NAME</text></g>
<g transform="translate(1342,855) rotate(-90)"><text style="font-size:9.5px;fill:#111" textLength="68" lengthAdjust="spacingAndGlyphs">INT. DINING HALL</text></g>
<g transform="translate(1348,875) rotate(-90)"><text class="tl">DRAWING</text></g>
<g transform="translate(1362,846) rotate(-90)"><text style="font-size:9.5px;fill:#111" textLength="53" lengthAdjust="spacingAndGlyphs">DOOR 2 DETAIL</text></g>
<g transform="translate(1370,875) rotate(-90)"><text class="tl">LOCATION</text></g>
<g transform="translate(1382,852) rotate(-90)"><text style="font-size:9px;fill:#111" textLength="30" lengthAdjust="spacingAndGlyphs">WB STG 16</text></g>
<text class="tl" x="1328" y="886">EPISODE</text><text x="1360" y="897" style="font-size:10px;text-anchor:middle">101</text>
<text class="tl" x="1328" y="905">SET #</text><text x="1359" y="916" style="font-size:10px;text-anchor:middle">9004</text>
<text class="tl" x="1328" y="925">DATE</text><text x="1359" y="935" style="font-size:8px;text-anchor:middle">11/13/20</text>
<text class="tl" x="1328" y="944">SCALE</text><text x="1359" y="951" style="font-size:4.8px;font-weight:bold;text-anchor:middle">AS NOTED</text>
<text class="tl" x="1328" y="962">SHEET</text><text x="1348" y="982" style="font-size:19px;text-anchor:middle">15</text>
<text x="1360" y="981" style="font-size:4px;fill:#888">OF</text><text x="1373" y="981" style="font-size:8px;text-anchor:middle">00</text>
</g>
</svg>
</body></html>
